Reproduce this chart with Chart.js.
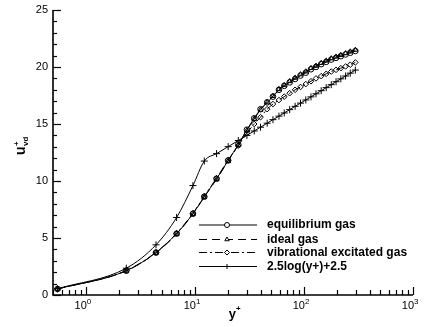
<!DOCTYPE html>
<html>
<head>
<meta charset="utf-8">
<script src="https://cdn.jsdelivr.net/npm/chart.js@4/dist/chart.umd.min.js"></script>
<style>
  html, body { margin: 0; padding: 0; background: #fff; }
  canvas { display: block; }
</style>
</head>
<body>
<canvas id="c" width="426" height="327"></canvas>
<script>
// Wall distance in wall units and van Driest velocity profiles
const yPlus = [0.55, 2.35, 4.4, 6.8, 9.6, 12.2, 15.8, 20.2, 25, 30, 35, 40, 46, 52, 59, 66, 74, 83, 93, 104, 116, 129, 144, 160, 178, 197, 218, 241, 266, 296];
const equilibriumGas = [0.53, 2.13, 3.72, 5.38, 7.13, 8.62, 10.2, 11.8, 13.2, 14.5, 15.5, 16.3, 16.9, 17.4, 18.0, 18.35, 18.65, 18.95, 19.25, 19.5, 19.8, 20.0, 20.25, 20.45, 20.65, 20.8, 20.95, 21.1, 21.25, 21.4];
const idealGas = [0.53, 2.12, 3.7, 5.36, 7.1, 8.6, 10.15, 11.75, 13.15, 14.45, 15.45, 16.25, 16.9, 17.45, 18.05, 18.4, 18.75, 19.05, 19.35, 19.6, 19.9, 20.1, 20.35, 20.55, 20.75, 20.9, 21.05, 21.2, 21.35, 21.5];
const vibrationalGas = [0.53, 2.15, 3.75, 5.42, 7.18, 8.68, 10.25, 11.85, 13.1, 14.2, 15.0, 15.6, 16.3, 16.75, 17.1, 17.4, 17.7, 18.0, 18.25, 18.5, 18.75, 19.0, 19.2, 19.4, 19.6, 19.75, 19.9, 20.05, 20.2, 20.4];
const logLaw = [0.55, 2.35, 4.4, 6.8, 9.6, 11.75, 12.4, 13.01, 13.55, 14.0, 14.39, 14.72, 15.07, 15.38, 15.69, 15.97, 16.26, 16.55, 16.83, 17.11, 17.38, 17.65, 17.92, 18.19, 18.45, 18.71, 18.96, 19.21, 19.46, 19.73];

const seriesNames = ['equilibrium gas', 'ideal gas', 'vibrational excitated gas', '2.5log(y+)+2.5'];
const yTicks = [0, 5, 10, 15, 20, 25];
const xDecades = [0, 1, 2, 3];

const toPoints = arr => arr.map((v, i) => ({ x: yPlus[i], y: v }));

const FONT = '"Liberation Sans", Arial, Helvetica, sans-serif';

const axesPlugin = {
  id: 'tecAxes',
  afterDraw(chart) {
    const { ctx, chartArea: a, scales } = chart;
    const xs = scales.x, ys = scales.y;
    ctx.save();
    ctx.strokeStyle = '#000';
    ctx.fillStyle = '#000';

    // axis lines
    ctx.lineWidth = 1.6;
    ctx.beginPath();
    ctx.moveTo(a.left, a.top);
    ctx.lineTo(a.left, a.bottom);
    ctx.lineTo(a.right, a.bottom);
    ctx.stroke();

    // y ticks (inward) and labels
    ctx.lineWidth = 1.2;
    for (let v = 0; v <= 25; v++) {
      const py = Math.round(ys.getPixelForValue(v)) + 0.5;
      const len = v % 5 === 0 ? 8 : 4;
      ctx.beginPath();
      ctx.moveTo(a.left, py);
      ctx.lineTo(a.left + len, py);
      ctx.stroke();
    }
    ctx.font = '11px ' + FONT;
    ctx.textAlign = 'right';
    ctx.textBaseline = 'middle';
    yTicks.forEach(v => {
      ctx.fillText(String(v), a.left - 5, ys.getPixelForValue(v));
    });

    // x ticks (inward), log decades
    for (let k = -1; k <= 3; k++) {
      for (let m = 1; m <= 9; m++) {
        const val = m * Math.pow(10, k);
        if (val < 0.5 || val > 1000) continue;
        const px = Math.round(xs.getPixelForValue(val)) + 0.5;
        const len = m === 1 ? 8 : 5;
        ctx.beginPath();
        ctx.moveTo(px, a.bottom);
        ctx.lineTo(px, a.bottom - len);
        ctx.stroke();
      }
    }
    xDecades.forEach(d => {
      const px = xs.getPixelForValue(Math.pow(10, d));
      ctx.font = '11px ' + FONT;
      ctx.textAlign = 'right';
      ctx.textBaseline = 'alphabetic';
      ctx.fillText('10', px + 1, a.bottom + 14);
      ctx.font = '8px ' + FONT;
      ctx.textAlign = 'left';
      ctx.fillText(String(d), px + 1, a.bottom + 9);
    });

    // x title: y+
    const cx = (a.left + a.right) / 2;
    ctx.font = 'bold 13px ' + FONT;
    ctx.textAlign = 'right';
    ctx.textBaseline = 'alphabetic';
    ctx.fillText('y', cx + 3, a.bottom + 23);
    ctx.font = 'bold 8px ' + FONT;
    ctx.textAlign = 'left';
    ctx.fillText('+', cx + 3, a.bottom + 16);

    // y title: u+vd (rotated)
    ctx.save();
    ctx.translate(25, 148);
    ctx.rotate(-Math.PI / 2);
    ctx.textBaseline = 'alphabetic';
    ctx.font = 'bold 14px ' + FONT;
    ctx.textAlign = 'left';
    ctx.fillText('u', -7, 0);
    ctx.font = 'bold 8px ' + FONT;
    ctx.fillText('+', 2, -6);
    ctx.fillText('vd', 2, 3);
    ctx.restore();

    // legend
    const rows = [225, 239.5, 252.5, 266.5];
    const x0 = 199, x1 = 257, mx = 227;
    chart.data.datasets.forEach((ds, i) => {
      const y = rows[i];
      ctx.strokeStyle = '#000';
      ctx.lineWidth = 1;
      ctx.setLineDash(ds.borderDash || []);
      ctx.beginPath();
      ctx.moveTo(x0, y);
      ctx.lineTo(x1, y);
      ctx.stroke();
      ctx.setLineDash([]);
      ctx.fillStyle = '#fff';
      Chart.helpers.drawPoint(ctx, {
        pointStyle: ds.pointStyle,
        radius: 2.5,
        borderWidth: 1
      }, mx, y);
      ctx.fillStyle = '#000';
      ctx.font = 'bold 12px ' + FONT;
      ctx.textAlign = 'left';
      ctx.textBaseline = 'middle';
      ctx.fillText(ds.label, 267, y);
    });
    ctx.restore();
  }
};

const common = {
  borderColor: '#000',
  borderWidth: 1,
  pointBorderColor: '#000',
  pointBackgroundColor: 'rgba(0,0,0,0)',
  pointBorderWidth: 1,
  cubicInterpolationMode: 'monotone',
  fill: false
};

new Chart(document.getElementById('c'), {
  type: 'line',
  data: {
    datasets: [
      Object.assign({}, common, { label: seriesNames[0], data: toPoints(equilibriumGas), pointStyle: 'circle', pointRadius: 2.8 }),
      Object.assign({}, common, { label: seriesNames[1], data: toPoints(idealGas), pointStyle: 'triangle', pointRadius: 2.8, borderDash: [8, 5] }),
      Object.assign({}, common, { label: seriesNames[2], data: toPoints(vibrationalGas), pointStyle: 'rectRot', pointRadius: 2.8, borderDash: [8, 3, 2, 3] }),
      Object.assign({}, common, { label: seriesNames[3], data: toPoints(logLaw), pointStyle: 'cross', pointRadius: 3.5 })
    ]
  },
  options: {
    responsive: false,
    devicePixelRatio: 1,
    animation: false,
    layout: { padding: { left: 53, right: 13, top: 10, bottom: 32 } },
    plugins: { legend: { display: false }, tooltip: { enabled: false } },
    scales: {
      x: { type: 'logarithmic', min: 0.5, max: 1000, display: false },
      y: { type: 'linear', min: 0, max: 25, display: false }
    }
  },
  plugins: [axesPlugin]
});
</script>
</body>
</html>
